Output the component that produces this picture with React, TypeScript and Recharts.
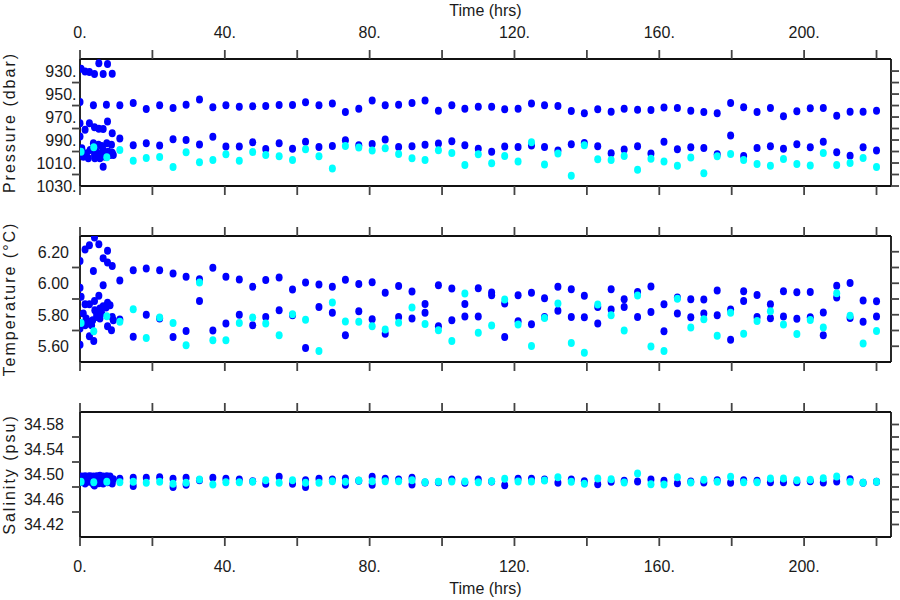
import React from 'react';
import { ScatterChart, Scatter, XAxis, YAxis } from 'recharts';

// ---------- shared x (time) ----------
const HOURS = [
  0, 3.7, 7.3, 11, 14.7, 18.3, 22, 25.7, 29.3, 33,
  36.7, 40.3, 44, 47.7, 51.3, 55, 58.7, 62.3, 66, 69.7,
  73.3, 77, 80.7, 84.3, 88, 91.7, 95.3, 99, 102.7, 106.3,
  110, 113.7, 117.3, 121, 124.7, 128.3, 132, 135.7, 139.3, 143,
  146.7, 150.3, 154, 157.7, 161.3, 165, 168.7, 172.3, 176, 179.7,
  183.3, 187, 190.7, 194.3, 198, 201.7, 205.3, 209, 212.7, 216.3,
  220,
];
const X_DOMAIN = [0, 224];
const X_TICKS = [0, 20, 40, 60, 80, 100, 120, 140, 160, 180, 200, 220];
const X_LABELS = [0, 40, 80, 120, 160, 200];

// ---------- pressure ----------
const PRES_A = [
  956.9, 959.8, 959.2, 959.8, 957.7, 963.0, 959.8, 962.1, 959.2, 954.8,
  961.5, 959.8, 961.0, 960.7, 960.4, 959.5, 959.5, 957.2, 959.8, 958.3,
  965.6, 962.7, 955.7, 959.8, 959.2, 957.7, 955.7, 964.5, 959.8, 962.7,
  961.0, 961.0, 963.3, 962.7, 958.3, 959.8, 960.4, 964.7, 966.8, 963.3,
  965.3, 962.7, 963.6, 963.9, 961.8, 962.1, 964.5, 965.6, 966.8, 957.7,
  961.5, 965.6, 962.1, 969.4, 965.0, 962.4, 962.1, 968.8, 965.3, 965.3,
  964.5,
];
const PRES_B = [
  null, null, null, 988.7, 994.5, 992.8, 994.8, 989.3, 989.9, 994.0,
  987.2, 995.7, 995.7, 991.9, 997.7, 992.8, 997.5, 991.6, 996.0, 995.1,
  990.2, 994.5, 993.4, 989.6, 996.0, 995.4, 994.2, 993.1, 991.0, 994.5,
  997.5, 1000.1, 995.7, 996.0, 994.8, 996.0, 999.2, 993.7, 992.5, 995.4,
  1001.5, 998.3, 995.4, 1001.8, 991.6, 998.0, 996.3, 996.9, 1002.4, 986.1,
  1003.9, 996.9, 995.4, 997.5, 993.7, 996.3, 991.6, 1000.7, 1003.6, 996.3,
  999.2,
];
const PRES_CYAN = [
  null, null, null, 998.6, 1008.0, 1005.6, 1004.8, 1013.5, 1000.7, 1009.4,
  1007.4, 1002.4, 1008.0, 1000.4, 1003.0, 1004.2, 1007.4, 998.0, 1004.2, 1014.7,
  995.1, 996.6, 999.2, 997.2, 1002.1, 1005.9, 1007.4, 998.9, 1001.2, 1011.8,
  1002.4, 1010.3, 1003.9, 1008.6, 991.9, 1011.2, 1001.8, 1021.1, 994.5, 1006.8,
  1007.4, 1003.9, 1015.8, 1006.2, 1008.6, 1012.3, 1005.3, 1018.8, 1004.2, 1002.1,
  1007.4, 1010.9, 1012.3, 1006.5, 1010.9, 1012.1, 1001.2, 1011.8, 1010.0, 1005.6,
  1013.5,
];
const PRES_EARLY_BLUE = [
  [0.3, 928.0], [1.4, 930.3], [2.6, 930.9], [4.0, 932.6], [5.2, 923.3], [6.4, 932.6], [7.6, 923.9], [8.9, 932.3],
  [0.0, 975.3], [1.4, 981.1], [2.6, 975.3], [4.0, 978.8], [5.2, 980.2], [6.4, 980.5], [7.6, 973.8], [8.9, 984.0], [0.0, 987.0],
  [3.7, 992.8], [5.1, 994.2], [6.0, 995.1], [7.4, 992.8], [8.7, 994.2],
  [0.5, 997.2], [0.9, 1004.5], [1.4, 1003.0], [1.8, 1001.5], [2.8, 998.6], [4.0, 1003.0], [4.1, 1005.9],
  [4.6, 1000.1], [5.5, 1003.0], [6.4, 998.6], [6.9, 1004.5], [7.8, 1000.1], [8.3, 1003.0], [9.2, 1003.0],
  [2.3, 1005.9], [5.5, 1005.9], [6.4, 1013.2], [8.9, 1001.0], [0.0, 1001.5],
];
const PRES_EARLY_CYAN = [[0.3, 1000.1], [3.8, 996.3], [7.4, 1005.0]];
const PRES_TICKS = [930, 940, 950, 960, 970, 980, 990, 1000, 1010, 1020, 1030];
const PRES_LABELS = [930, 950, 970, 990, 1010, 1030];

// ---------- temperature ----------
const TEMP_A = [
  null, null, null, 6.018, 6.083, 6.094, 6.083, 6.062, 6.041, 6.026,
  6.098, 6.041, 6.024, 5.977, 6.020, 6.037, 5.960, 6.005, 5.992, 5.977,
  6.022, 5.996, 6.007, 5.939, 5.982, 5.948, 5.869, 5.988, 5.967, 5.869,
  5.969, 5.941, 5.871, 5.924, 5.939, 5.905, 5.977, 5.962, 5.920, 5.850,
  5.962, 5.899, 5.945, 5.979, 5.867, 5.910, 5.899, 5.897, 5.954, 5.833,
  5.950, 5.926, 5.867, 5.950, 5.943, 5.945, 5.814, 5.984, 6.001, 5.890,
  5.886,
];
const TEMP_B = [
  null, null, null, 5.770, 5.661, 5.800, 5.776, 5.659, 5.697, 5.888,
  5.700, 5.744, 5.800, 5.733, 5.786, 5.829, 5.797, 5.589, 5.850, 5.812,
  5.670, 5.822, 5.772, 5.680, 5.786, 5.776, 5.812, 5.727, 5.765, 5.789,
  5.789, 5.924, 5.659, 5.759, 5.740, 5.786, 5.825, 5.786, 5.784, 5.744,
  5.833, 5.850, 5.786, 5.818, 5.695, 5.808, 5.784, 5.808, 5.797, 5.642,
  5.888, 5.786, 5.778, 5.789, 5.774, 5.784, 5.670, 5.910, 5.780, 5.755,
  5.789,
];
const TEMP_CYAN = [
  null, null, null, 5.755, 5.835, 5.653, 5.782, 5.748, 5.606, 6.005,
  5.638, 5.638, 5.748, 5.782, 5.744, 5.670, 5.803, 5.769, 5.570, 5.878,
  5.757, 5.755, 5.727, 5.706, 5.750, 5.846, 5.742, 5.702, 5.634, 5.935,
  5.685, 5.731, 5.897, 5.738, 5.602, 5.780, 5.871, 5.621, 5.559, 5.865,
  5.797, 5.700, 5.922, 5.598, 5.570, 5.901, 5.719, 5.772, 5.666, 5.812,
  5.680, 5.761, 5.822, 5.738, 5.678, 5.767, 5.719, 5.937, 5.793, 5.617,
  5.697,
];
const TEMP_EARLY_BLUE = [
  [0.0, 6.141], [0.0, 5.971], [0.3, 5.914], [0.0, 5.610], [0.0, 5.712],
  [1.4, 6.215], [2.6, 6.242], [4.0, 6.291], [5.2, 6.247], [6.4, 6.158], [7.6, 6.206], [7.6, 6.132], [8.9, 6.109],
  [3.7, 6.077], [6.4, 5.988], [5.2, 5.920], [4.0, 5.888], [3.8, 5.634], [2.6, 5.664],
  [1.4, 5.867], [2.6, 5.867], [0.9, 5.808], [1.7, 5.776], [2.3, 5.755], [3.2, 5.733], [4.1, 5.829],
  [4.6, 5.786], [5.5, 5.839], [6.0, 5.808], [6.4, 5.854], [7.2, 5.846], [7.6, 5.876], [8.3, 5.861],
  [8.9, 5.786], [9.2, 5.765], [7.6, 5.727], [8.7, 5.702], [0.5, 5.744], [1.4, 5.733], [5.5, 5.776],
  [4.6, 5.808], [3.5, 5.765], [2.1, 5.744],
];
const TEMP_EARLY_CYAN = [[0.3, 5.748], [3.8, 5.695], [7.4, 5.791]];
const TEMP_TICKS = [5.6, 5.7, 5.8, 5.9, 6.0, 6.1, 6.2];
const TEMP_LABELS = [5.6, 5.8, 6.0, 6.2];

// ---------- salinity ----------
const SAL_A = [
  null, null, null, 34.4931, 34.4947, 34.4947, 34.4958, 34.4931, 34.4947, 34.4910,
  34.4947, 34.4931, 34.4920, 34.4894, 34.4852, 34.4963, 34.4852, 34.4910, 34.4931, 34.4920,
  34.4936, 34.4899, 34.4963, 34.4931, 34.4920, 34.4947, 34.4873, 34.4878, 34.4920, 34.4867,
  34.4920, 34.4889, 34.4830, 34.4931, 34.4931, 34.4920, 34.4867, 34.4920, 34.4894, 34.4846,
  34.4883, 34.4899, 34.4888, 34.4920, 34.4899, 34.4862, 34.4888, 34.4872, 34.4910, 34.4867,
  34.4910, 34.4899, 34.4878, 34.4878, 34.4878, 34.4894, 34.4872, 34.4888, 34.4925, 34.4867,
  34.4883,
];
const SAL_B = [
  null, null, null, null, 34.4815, null, null, 34.4799, 34.4836, null,
  null, null, null, null, null, null, null, 34.4800, null, null,
  34.4836, null, 34.4836, null, null, 34.4840, null, null, null, null,
  null, null, null, null, null, null, null, null, null, null,
  null, null, null, null, null, null, null, null, null, null,
  null, null, null, null, null, null, null, null, null, null,
  null,
];
const SAL_CYAN = [
  null, null, null, 34.4878, 34.4883, 34.4867, 34.4883, 34.4852, 34.4867, 34.4920,
  34.4840, 34.4878, 34.4878, 34.4883, 34.4910, 34.4867, 34.4910, 34.4867, 34.4867, 34.4894,
  34.4883, 34.4905, 34.4894, 34.4894, 34.4894, 34.4910, 34.4878, 34.4883, 34.4889, 34.4889,
  34.4878, 34.4894, 34.4931, 34.4889, 34.4889, 34.4905, 34.4958, 34.4883, 34.4852, 34.4936,
  34.4925, 34.4872, 34.5016, 34.4846, 34.4841, 34.4957, 34.4872, 34.4915, 34.4883, 34.4963,
  34.4878, 34.4878, 34.4936, 34.4936, 34.4910, 34.4915, 34.4941, 34.4968, 34.4883, 34.4867,
  34.4883,
];
const SAL_EARLY_BLUE = [
  [0.0, 34.4936], [0.0, 34.4878], [0.5, 34.4968], [0.9, 34.4915], [1.4, 34.4974], [1.4, 34.4857],
  [1.8, 34.4941], [2.3, 34.4968], [2.6, 34.4883], [2.8, 34.4974], [3.2, 34.4925], [3.7, 34.4968],
  [3.7, 34.4846], [4.0, 34.4825], [4.1, 34.4936], [4.6, 34.4974], [5.1, 34.4915], [5.2, 34.4862],
  [5.5, 34.4979], [6.0, 34.4936], [6.4, 34.4968], [6.4, 34.4857], [6.9, 34.4925], [7.4, 34.4974],
  [7.6, 34.4878], [7.8, 34.4941], [8.3, 34.4968], [8.7, 34.4899], [8.9, 34.4857], [9.2, 34.4925],
];
const SAL_EARLY_CYAN = [[0.3, 34.4883], [3.8, 34.4878], [7.4, 34.4883]];
const SAL_TICKS = [34.42, 34.44, 34.46, 34.48, 34.50, 34.52, 34.54, 34.56, 34.58];
const SAL_LABELS = [34.42, 34.46, 34.50, 34.54, 34.58];

// ---------- styling ----------
const BLUE = '#0000ff';
const CYAN = '#00ffff';
const FONT = "'Liberation Sans', Arial, Helvetica, sans-serif";
const INK = '#1a1a1a';
const PLOT_LEFT = 80;
const AXIS_LINE = { stroke: '#111', strokeWidth: 1.8 };
const TICK_LINE = { stroke: '#444', strokeWidth: 1.8 };

type Pt = { t: number; v: number };

function collect(series: (number | null)[][], early: number[][]): Pt[] {
  const out: Pt[] = early.map(([t, v]) => ({ t, v }));
  series.forEach((s) =>
    s.forEach((v, i) => {
      if (v != null) out.push({ t: HOURS[i], v });
    })
  );
  return out;
}

const isLabel = (v: number, labels: number[]) => labels.some((l) => Math.abs(l - v) < 1e-6);

const makeDot = (color: string) => (props: any) => {
  if (props.cx == null || props.cy == null) return <g />;
  return <ellipse cx={props.cx} cy={props.cy} rx={3.5} ry={4} fill={color} />;
};
const blueDot = makeDot(BLUE);
const cyanDot = makeDot(CYAN);

const NoTick = () => <g />;

const YLeftTick = (props: any) => {
  const { y, payload, labels, fmt, anchorX } = props;
  const v = Number(payload.value);
  if (isLabel(v, labels)) {
    return (
      <text x={anchorX} y={y} dy="0.36em" textAnchor="end" fontSize={16} fontFamily={FONT} fill={INK}>
        {fmt(v)}
      </text>
    );
  }
  return <line x1={PLOT_LEFT - 8} x2={PLOT_LEFT} y1={y} y2={y} stroke="#444" strokeWidth={1.8} />;
};

const XLabelTick = (props: any) => {
  const { x, payload, labels, baseline } = props;
  const v = Number(payload.value);
  if (!isLabel(v, labels)) return <g />;
  return (
    <text x={x} y={baseline} textAnchor="middle" fontSize={16} fontFamily={FONT} fill={INK}>
      {`${v}.`}
    </text>
  );
};

const XTitle = (props: any) => {
  const vb = props.viewBox || {};
  const x0 = vb.x != null ? vb.x : 80;
  const w = vb.width != null ? vb.width : 811;
  return (
    <text x={x0 + w / 2} y={props.cy} textAnchor="middle" dominantBaseline="central" fontSize={16} fontFamily={FONT} fill={INK}>
      Time (hrs)
    </text>
  );
};

const YTitle = (props: any) => {
  const vb = props.viewBox || {};
  const cy = (vb.y != null ? vb.y : 0) + (vb.height != null ? vb.height : 0) / 2;
  const cx = 9;
  return (
    <text
      x={cx}
      y={cy}
      transform={`rotate(-90 ${cx} ${cy})`}
      textAnchor="middle"
      dominantBaseline="central"
      fontSize={16}
      fontFamily={FONT}
      fill={INK}
      style={{ letterSpacing: '2px' }}
    >
      {props.text}
    </text>
  );
};

type PanelProps = {
  top: number;
  height: number;
  topH: number;
  bottomH: number;
  yDomain: number[];
  reversed?: boolean;
  yTicks: number[];
  yLabels: number[];
  fmt: (v: number) => string;
  labelX: number;
  title: string;
  blue: Pt[];
  cyan: Pt[];
  topLabels?: boolean;
  bottomLabels?: boolean;
};

function Panel(p: PanelProps) {
  const bottomAxisY = p.height - p.bottomH;
  return (
    <div style={{ position: 'absolute', left: 0, top: p.top }}>
      <ScatterChart width={900} height={p.height} margin={{ top: 0, right: 0, bottom: 0, left: 0 }}>
        <XAxis
          xAxisId="top"
          orientation="top"
          type="number"
          dataKey="t"
          domain={X_DOMAIN}
          allowDataOverflow
          ticks={X_TICKS}
          interval={0}
          height={p.topH}
          tickSize={9}
          axisLine={AXIS_LINE}
          tickLine={TICK_LINE}
          tick={p.topLabels ? <XLabelTick labels={X_LABELS} baseline={37.5} /> : <NoTick />}
          label={p.topLabels ? <XTitle cy={10} /> : undefined}
        />
        <XAxis
          xAxisId="bottom"
          orientation="bottom"
          type="number"
          dataKey="t"
          domain={X_DOMAIN}
          allowDataOverflow
          ticks={X_TICKS}
          interval={0}
          height={p.bottomH}
          tickSize={9}
          axisLine={AXIS_LINE}
          tickLine={TICK_LINE}
          tick={p.bottomLabels ? <XLabelTick labels={X_LABELS} baseline={bottomAxisY + 34.5} /> : <NoTick />}
          label={p.bottomLabels ? <XTitle cy={bottomAxisY + 51.5} /> : undefined}
        />
        <YAxis
          yAxisId="left"
          orientation="left"
          type="number"
          dataKey="v"
          width={80}
          domain={p.yDomain}
          reversed={p.reversed}
          allowDataOverflow
          ticks={p.yTicks}
          interval={0}
          axisLine={AXIS_LINE}
          tickLine={false}
          tick={<YLeftTick labels={p.yLabels} fmt={p.fmt} anchorX={p.labelX} />}
          label={<YTitle text={p.title} />}
        />
        <YAxis
          yAxisId="right"
          orientation="right"
          type="number"
          dataKey="v"
          width={9}
          domain={p.yDomain}
          reversed={p.reversed}
          allowDataOverflow
          ticks={p.yTicks}
          interval={0}
          tickSize={8}
          axisLine={AXIS_LINE}
          tickLine={TICK_LINE}
          tick={<NoTick />}
        />
        <Scatter data={p.blue} xAxisId="bottom" yAxisId="left" shape={blueDot} isAnimationActive={false} />
        <Scatter data={p.cyan} xAxisId="bottom" yAxisId="left" shape={cyanDot} isAnimationActive={false} />
      </ScatterChart>
    </div>
  );
}

export default function App() {
  const presBlue = collect([PRES_A, PRES_B], PRES_EARLY_BLUE);
  const presCyan = collect([PRES_CYAN], PRES_EARLY_CYAN);
  const tempBlue = collect([TEMP_A, TEMP_B], TEMP_EARLY_BLUE);
  const tempCyan = collect([TEMP_CYAN], TEMP_EARLY_CYAN);
  const salBlue = collect([SAL_A, SAL_B], SAL_EARLY_BLUE);
  const salCyan = collect([SAL_CYAN], SAL_EARLY_CYAN);

  return (
    <div style={{ position: 'fixed', left: 0, top: 0, width: 900, height: 600, background: '#fff', overflow: 'hidden' }}>
      <Panel
        top={0}
        height={200}
        topH={59}
        bottomH={14}
        yDomain={[919.5, 1030]}
        reversed
        yTicks={PRES_TICKS}
        yLabels={PRES_LABELS}
        fmt={(v) => `${v}.`}
        labelX={76.5}
        title="Pressure (dbar)"
        blue={presBlue}
        cyan={presCyan}
        topLabels
      />
      <Panel
        top={216}
        height={160}
        topH={20}
        bottomH={14}
        yDomain={[5.5, 6.3]}
        yTicks={TEMP_TICKS}
        yLabels={TEMP_LABELS}
        fmt={(v) => v.toFixed(2)}
        labelX={69}
        title="Temperature (°C)"
        blue={tempBlue}
        cyan={tempCyan}
      />
      <Panel
        top={392}
        height={208}
        topH={20}
        bottomH={63}
        yDomain={[34.4, 34.6]}
        yTicks={SAL_TICKS}
        yLabels={SAL_LABELS}
        fmt={(v) => v.toFixed(2)}
        labelX={64}
        title="Salinity (psu)"
        blue={salBlue}
        cyan={salCyan}
        bottomLabels
      />
    </div>
  );
}
